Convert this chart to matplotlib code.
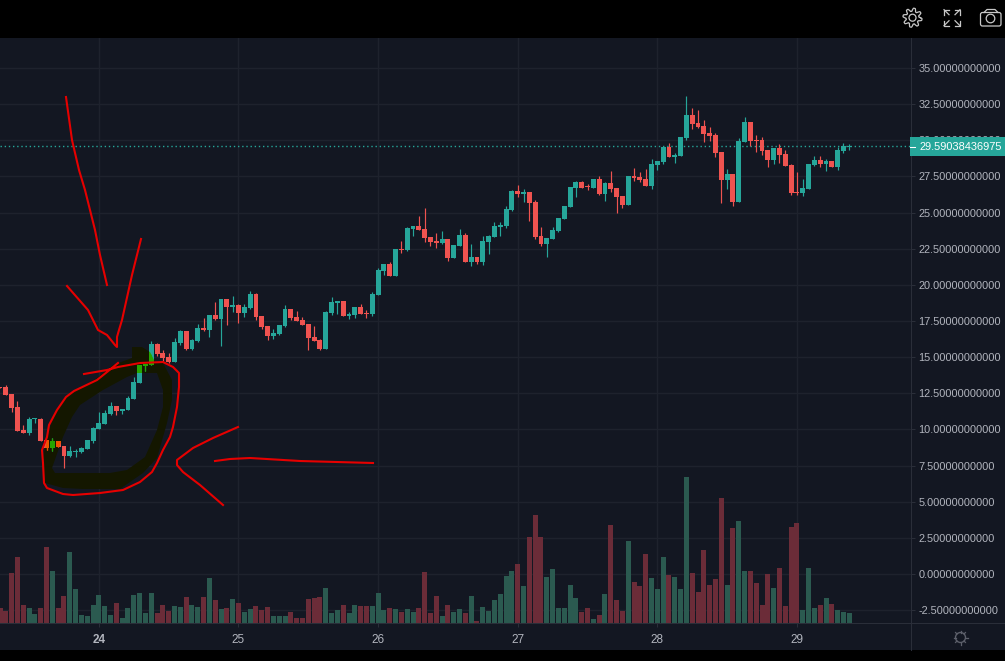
"""
Hourly candlestick screenshot with volume and hand drawn red marks
"""

import matplotlib
matplotlib.use('Agg')
import matplotlib.pyplot as plt
import numpy as np
from matplotlib.lines import Line2D
from matplotlib.patches import Circle, FancyBboxPatch, PathPatch, Rectangle
from matplotlib.path import Path
from matplotlib.transforms import Affine2D

plt.rcParams['font.family'] = 'Liberation Sans'

opens = [12.93, 12.93, 12.45, 11.55, 9.96, 9.75, 10.69, 10.72, 9.27, 8.71,
         9.20, 8.85, 8.16, 8.44, 8.44, 8.64, 9.20, 10.03, 10.37, 11.06,
         11.62, 11.27, 11.34, 12.10, 13.21, 14.38, 14.45, 15.91, 15.28, 15.00,
         14.66, 15.97, 16.80, 15.56, 16.11, 17.01, 16.87, 17.91, 17.63, 19.01,
         18.46, 18.60, 18.05, 18.39, 19.36, 17.84, 17.15, 16.46, 16.60, 17.15,
         18.32, 17.77, 17.56, 17.29, 16.39, 16.18, 15.56, 18.05, 18.74, 18.88,
         17.84, 17.91, 18.46, 18.05, 17.98, 19.29, 20.95, 21.44, 20.61, 22.48,
         22.41, 23.86, 24.07, 23.86, 23.31, 23.03, 22.89, 23.17, 21.85, 22.68,
         23.45, 21.58, 21.92, 21.58, 22.96, 23.31, 24.00, 24.07, 25.17, 26.49,
         26.28, 26.42, 25.73, 23.38, 22.82, 23.17, 23.72, 24.55, 25.38, 26.70,
         27.11, 26.83, 26.70, 27.32, 26.28, 27.04, 26.70, 26.14, 25.52, 27.52,
         27.45, 27.32, 26.83, 28.28, 28.49, 29.53, 28.84, 28.91, 30.15, 31.74,
         31.19, 30.98, 30.50, 30.36, 29.18, 27.25, 27.66, 25.73, 29.87, 31.26,
         30.01, 30.01, 29.32, 28.63, 29.46, 29.04, 28.28, 26.42, 26.35, 26.62,
         28.28, 28.63, 28.35, 28.56, 28.15, 29.25, 29.53]

highs = [12.95, 13.07, 12.45, 11.97, 10.30, 10.83, 10.79, 10.79, 9.27, 9.41,
         9.20, 8.85, 8.85, 8.64, 8.78, 9.27, 10.17, 11.20, 11.34, 11.89,
         11.62, 11.41, 12.31, 13.62, 14.45, 14.52, 16.11, 15.97, 15.49, 15.28,
         16.32, 16.87, 16.80, 16.25, 17.29, 17.70, 17.91, 18.81, 19.01, 19.01,
         19.22, 18.67, 18.67, 19.57, 19.43, 17.84, 17.15, 16.94, 17.22, 18.60,
         18.32, 18.19, 17.77, 17.29, 17.15, 16.25, 18.19, 19.15, 18.88, 18.88,
         18.12, 18.46, 18.67, 18.26, 19.50, 21.16, 21.44, 21.58, 22.48, 23.03,
         24.00, 24.07, 24.76, 25.31, 23.31, 23.58, 23.72, 23.17, 22.75, 23.86,
         23.58, 22.82, 21.92, 23.38, 23.45, 24.34, 24.34, 25.45, 26.56, 26.90,
         26.63, 26.42, 25.87, 24.00, 23.24, 24.00, 24.62, 25.45, 26.76, 27.18,
         27.18, 26.97, 27.32, 27.53, 27.11, 27.87, 26.70, 26.14, 27.52, 28.08,
         27.80, 28.01, 28.70, 28.56, 29.53, 29.81, 29.11, 30.22, 33.06, 32.23,
         32.09, 31.40, 30.91, 30.50, 29.18, 28.01, 27.66, 30.15, 31.60, 31.26,
         30.36, 30.22, 29.32, 29.46, 29.74, 29.32, 28.35, 27.80, 27.32, 28.35,
         28.91, 28.91, 28.70, 28.56, 29.53, 29.81, 29.74]

lows = [12.86, 12.38, 11.20, 9.89, 9.75, 9.61, 10.44, 9.20, 8.57, 8.50,
        8.78, 7.33, 8.09, 8.09, 8.37, 8.64, 9.06, 10.03, 10.37, 10.99,
        10.99, 11.06, 11.34, 12.10, 13.21, 14.04, 14.45, 15.07, 14.73, 14.59,
        14.66, 15.83, 15.49, 15.49, 16.04, 16.80, 16.39, 17.56, 15.77, 17.22,
        18.12, 17.36, 17.77, 18.32, 17.56, 16.94, 16.18, 16.25, 16.53, 17.08,
        17.56, 17.49, 17.22, 15.49, 16.11, 15.49, 15.56, 17.91, 17.98, 17.84,
        17.63, 17.70, 17.98, 17.70, 17.84, 19.29, 20.67, 20.61, 20.61, 22.20,
        22.34, 23.38, 23.79, 22.96, 22.68, 22.55, 22.82, 21.65, 21.85, 22.68,
        21.58, 21.30, 21.44, 21.37, 22.13, 23.31, 23.38, 23.93, 25.10, 26.07,
        25.73, 24.41, 23.17, 22.68, 21.92, 23.17, 23.65, 24.55, 25.38, 26.07,
        26.70, 26.56, 26.70, 26.21, 25.80, 26.42, 24.97, 25.31, 25.52, 27.18,
        27.11, 26.83, 26.62, 27.94, 28.35, 28.84, 28.42, 28.91, 30.01, 30.77,
        30.84, 29.87, 29.94, 28.84, 25.66, 26.62, 25.45, 25.73, 29.87, 29.60,
        29.18, 28.98, 28.15, 28.35, 28.42, 28.21, 26.21, 26.21, 26.14, 26.62,
        28.21, 28.15, 27.87, 28.15, 27.94, 29.11, 29.32]

closes = [12.86, 12.38, 11.48, 9.89, 9.75, 10.72, 10.76, 9.20, 8.71, 9.20,
          8.78, 8.16, 8.50, 8.50, 8.71, 9.27, 10.10, 10.44, 11.13, 11.62,
          11.27, 11.41, 12.17, 13.28, 14.45, 14.52, 15.91, 15.21, 14.93, 14.66,
          16.04, 16.80, 15.56, 16.18, 17.01, 16.87, 17.91, 17.63, 19.01, 18.46,
          18.60, 18.05, 18.46, 19.36, 17.77, 17.08, 16.46, 16.67, 17.22, 18.32,
          17.70, 17.49, 17.22, 16.32, 16.11, 15.56, 18.12, 18.81, 18.88, 17.84,
          17.98, 18.46, 17.98, 17.98, 19.36, 21.02, 21.44, 20.61, 22.48, 22.41,
          23.93, 24.07, 23.79, 23.24, 22.96, 22.89, 23.17, 21.85, 22.75, 23.45,
          21.58, 21.92, 21.58, 23.03, 23.38, 24.07, 24.14, 25.24, 26.49, 26.28,
          26.42, 25.66, 23.31, 22.82, 23.24, 23.79, 24.62, 25.45, 26.76, 27.11,
          26.70, 26.76, 27.32, 26.28, 27.04, 26.63, 26.07, 25.52, 27.52, 27.38,
          27.25, 26.83, 28.35, 28.56, 29.53, 28.84, 28.98, 30.22, 31.74, 31.12,
          30.91, 30.43, 30.29, 29.11, 27.25, 27.66, 25.73, 29.94, 31.26, 29.94,
          29.94, 29.25, 28.63, 29.46, 28.98, 28.21, 26.35, 26.35, 26.69, 28.35,
          28.63, 28.35, 28.56, 28.15, 29.32, 29.60, 29.60]

volumes = [15, 12, 50, 66, 18, 15, 9, 15, 76, 52,
           15, 27, 71, 34, 8, 7, 18, 28, 17, 8,
           20, 5, 15, 28, 30, 10, 30, 10, 18, 12,
           17, 16, 26, 18, 16, 26, 45, 23, 14, 15,
           24, 20, 11, 14, 17, 13, 16, 7, 7, 7,
           11, 5, 5, 24, 25, 26, 35, 10, 13, 18,
           10, 18, 17, 17, 17, 30, 13, 15, 14, 11,
           14, 11, 15, 51, 10, 27, 7, 18, 11, 14,
           10, 27, 2, 16, 12, 23, 29, 47, 52, 59,
           37, 86, 108, 86, 46, 54, 15, 15, 38, 25,
           11, 15, 4, 8, 29, 98, 23, 12, 82, 41,
           37, 69, 45, 34, 66, 48, 46, 34, 146, 50,
           31, 73, 38, 44, 125, 38, 95, 102, 52, 52,
           40, 18, 49, 35, 55, 17, 96, 100, 13, 55,
           15, 18, 25, 19, 13, 11, 10]

last_price = 29.59038436975
last_label = '29.59038436975'
price_ticks = [35, 32.5, 30, 27.5, 25, 22.5, 20, 17.5, 15, 12.5, 10, 7.5, 5, 2.5, 0, -2.5]
day_hours = [17, 41, 65, 89, 113, 137]
day_labels = ['24', '25', '26', '27', '28', '29']

BG = '#131722'
GRID = '#1e222d'
BORDER = '#2a2e39'
TEXT = '#b2b5be'
UP = '#26a69a'
DOWN = '#ef5350'
UP_VOL = '#2b5a50'
DOWN_VOL = '#6b2c38'
INK = '#e60000'
W, H = 1005, 661
px = Affine2D().scale(1, -1).translate(0, H)  # screen pixels, y going down

fig = plt.figure(figsize=(W / 100, H / 100), dpi=100, facecolor=BG)
ax = fig.add_axes([0, (H - 622.5) / H, 910 / W, 584.5 / H], facecolor=BG)

o = np.array(opens)
c = np.array(closes)
hi = np.array(highs)
lo = np.array(lows)
idx = np.arange(len(o))
rising = c >= o
ymin, ymax = -3.35, 37.07
units_per_px = (ymax - ymin) / 584.5

# Volume sits on the bottom edge, one volume unit is one pixel tall
ax.bar(idx, np.array(volumes) * units_per_px, bottom=ymin, width=0.86, zorder=2,
       color=[UP_VOL if r else DOWN_VOL for r in rising])

# Yellow marker scribble, done as a ring so candles can be tinted inside it
outer = [(132, 347), (142, 347), (150, 352), (155, 362), (163, 363), (172, 380), (172, 400), (167, 423),
         (157, 458), (143, 473), (120, 489), (83, 489), (63, 488), (45, 483), (43, 457),
         (50, 427), (57, 410), (66, 397), (97, 378), (113, 365), (132, 358), (132, 347)]
inner = [(55, 473), (110, 473), (127, 470), (145, 457), (157, 430), (163, 407), (163, 390),
         (157, 373), (137, 373), (127, 377), (103, 390), (80, 405), (72, 417), (63, 437),
         (52, 468), (55, 473)]
ring = Path.make_compound_path(Path(outer, closed=True), Path(inner, closed=True))
brush = PathPatch(ring, transform=px, facecolor='#141700', edgecolor='none', zorder=3)
ax.add_patch(brush)


def draw_candles(up, down, z, clip=None):
    colors = [up if r else down for r in rising]
    wicks = ax.vlines(idx, lo, hi, colors=colors, linewidth=0.85, zorder=z)
    bodies = ax.bar(idx, np.maximum(np.abs(c - o), 0.07), bottom=np.minimum(o, c),
                    width=0.84, color=colors, zorder=z)
    if clip is not None:
        wicks.set_clip_path(clip)
        for b in bodies:
            b.set_clip_path(clip)


draw_candles(UP, DOWN, 4)
draw_candles('#26a600', '#ef5300', 5, clip=brush)

# Last price line
ax.axhline(last_price, color=UP, linestyle=(0, (1, 2)), linewidth=1.0, zorder=3.5)

ax.set_xlim(0, 910 / 5.817)
ax.set_ylim(ymin, ymax)
ax.set_yticks(price_ticks)
ax.set_yticklabels(['%.11f' % t for t in price_ticks], fontsize=7.9, color=TEXT)
ax.yaxis.tick_right()
ax.set_xticks(day_hours)
ax.set_xticklabels(day_labels, fontsize=8.5, color=TEXT)
ax.get_xticklabels()[0].set_fontweight('bold')
ax.tick_params(axis='y', length=3.6, width=0.75, color=BORDER, pad=2.3)
ax.tick_params(axis='x', length=3, width=0.75, color=BORDER, pad=5)
ax.grid(color=GRID, linewidth=1.0, zorder=1)
ax.set_axisbelow(True)
for s in ax.spines.values():
    s.set_visible(False)

# Red pen strokes
strokes = [
    [(66, 97), (72, 140), (79, 170), (85, 190), (95, 230), (100, 255), (107, 285)],
    [(141, 239), (132, 275), (122, 320), (119, 330), (117, 337), (117, 347), (115, 345),
     (107, 335), (98, 330), (88, 310), (67, 286)],
    [(84, 374), (107, 370), (118, 367), (140, 363), (163, 362), (173, 367), (179, 373),
     (179, 387), (177, 407), (173, 427), (170, 437), (163, 450), (157, 463), (152, 472),
     (140, 482), (123, 490), (100, 493), (73, 495), (63, 494), (47, 488), (44, 483),
     (43, 463), (42, 450), (47, 437), (49, 425), (57, 410), (66, 397), (74, 391),
     (97, 380), (107, 372), (118, 363)],
    [(238, 427), (213, 438), (193, 448), (177, 460), (177, 465), (183, 472), (200, 485), (223, 505)],
    [(215, 461), (230, 459), (250, 458), (300, 461), (373, 463)],
]
for pts in strokes:
    xs, ys = zip(*pts)
    ax.add_line(Line2D(xs, ys, transform=px, color=INK, linewidth=1.5, zorder=6))

# Frame: black bands and pane borders
fig.add_artist(Rectangle((0, 0), W, 38, transform=px, facecolor='black', edgecolor='none', zorder=1))
fig.add_artist(Rectangle((0, 650), W, 11, transform=px, facecolor='black', edgecolor='none', zorder=1))
fig.add_artist(Line2D([910.5, 910.5], [38, 650], transform=px, color=BORDER, linewidth=0.75, zorder=2))
fig.add_artist(Line2D([0, W], [622.5, 622.5], transform=px, color=BORDER, linewidth=0.75, zorder=2))

# Last price tag
fig.add_artist(Rectangle((910, 137), 95, 19, transform=px, facecolor=UP, edgecolor='none', zorder=5))
fig.add_artist(Line2D([910, 915], [146.5, 146.5], transform=px, color='white', linewidth=0.75, zorder=6))
fig.text(919 / W, 1 - 146.7 / H, last_label, color='white', fontsize=7.9, va='center', ha='left', zorder=6)

# Toolbar icons
ICON = '#c8c8c8'
angles = np.linspace(0, 2 * np.pi, 65)
gear_r = 8 + 1.6 * np.tanh(3 * np.sin(8 * angles))
fig.add_artist(Line2D(912.5 + gear_r * np.cos(angles), 17.7 + gear_r * np.sin(angles), transform=px,
                      color=ICON, linewidth=0.9, zorder=6))
fig.add_artist(Circle((912.5, 17.7), 3.5, transform=px, fill=False, edgecolor=ICON, linewidth=0.9, zorder=6))
for sx, sy in [(-1, -1), (1, -1), (-1, 1), (1, 1)]:
    cx, cy = 952, 17.7
    fig.add_artist(Line2D([cx + sx * 8, cx + sx * 8, cx + sx * 3], [cy + sy * 3, cy + sy * 8, cy + sy * 8],
                          transform=px, color=ICON, linewidth=0.9, zorder=6))
    fig.add_artist(Line2D([cx + sx * 8, cx + sx * 3], [cy + sy * 8, cy + sy * 3],
                          transform=px, color=ICON, linewidth=0.9, zorder=6))
fig.add_artist(FancyBboxPatch((980.5, 12.5), 20.5, 13.5, boxstyle='round,pad=0,rounding_size=2', transform=px,
                              fill=False, edgecolor=ICON, linewidth=0.9, zorder=6))
fig.add_artist(Line2D([984, 987, 995, 998], [12.5, 9.5, 9.5, 12.5], transform=px, color=ICON, linewidth=0.9, zorder=6))
fig.add_artist(Circle((990.5, 18.5), 4.3, transform=px, fill=False, edgecolor=ICON, linewidth=0.9, zorder=6))

# Sun icon, lower right
SUN = '#5d606b'
fig.add_artist(Circle((960.5, 637.5), 5, transform=px, fill=False, edgecolor=SUN, linewidth=1.0, zorder=6))
for a in np.arange(0, 2 * np.pi, np.pi / 4):
    fig.add_artist(Line2D([960.5 + 5 * np.cos(a), 960.5 + 7 * np.cos(a)],
                          [637.5 + 5 * np.sin(a), 637.5 + 7 * np.sin(a)],
                          transform=px, color=SUN, linewidth=0.9, zorder=6))

plt.savefig('out.png', dpi=100, facecolor=BG)
plt.close()
